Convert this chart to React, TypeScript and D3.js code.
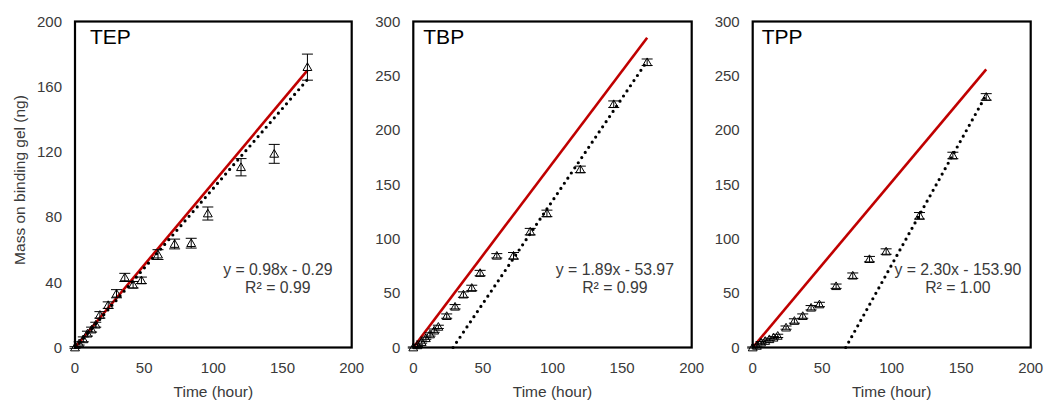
import React from "react";
import * as d3 from "d3";

const times = [0, 3, 6, 9, 12, 15, 18, 24, 30, 36, 42, 48, 60, 72, 84, 96, 120, 144, 168];

const tepMass = [0, 2.5, 5, 8.5, 11, 14, 20, 26, 33, 43, 38.5, 41.2, 57, 63.5, 64, 82.2, 110.6, 118.8, 172];
const tepErr = [0.5, 1, 1.5, 1.5, 1.5, 1.5, 2, 2, 2.5, 2.5, 2, 2, 3, 3, 3, 4, 5.3, 5.8, 8];

const tbpMass = [0, 2, 5, 8.5, 12, 15.5, 19, 28.9, 37.5, 48.7, 54.8, 68.5, 84.4, 84.4, 106.6, 123.4, 163.9, 223.9, 262.5];
const tbpErr = [0.5, 1, 1, 1, 1.5, 1.5, 1.5, 2, 2, 2.5, 2.5, 2.5, 2, 3, 3, 3, 3, 3, 3];

const tppMass = [0, 1.5, 4.5, 6, 7.6, 9, 10.7, 18.3, 24.4, 28.9, 36.6, 39.6, 56.4, 66.1, 81.3, 88.3, 121.2, 176.7, 230.6];
const tppErr = [0.5, 1, 1, 1, 1, 1, 1.5, 1.5, 2, 2, 2, 2, 2, 2.5, 2.5, 2.5, 3, 3, 3];

const panelNames = ["TEP", "TBP", "TPP"];
const theoryEnd = [170, 285, 256];
const fitSlope = [0.98, 1.89, 2.3];
const fitIntercept = [-0.29, -53.97, -153.9];
const eqLabels = ["y = 0.98x - 0.29", "y = 1.89x - 53.97", "y = 2.30x - 153.90"];
const r2Labels = ["R² = 0.99", "R² = 0.99", "R² = 1.00"];
const yMaxes = [200, 300, 300];
const yTickSets = [
  [0, 40, 80, 120, 160, 200],
  [0, 50, 100, 150, 200, 250, 300],
  [0, 50, 100, 150, 200, 250, 300],
];
const xTicks = [0, 50, 100, 150, 200];
const xMaxData = 168;

const massSets = [tepMass, tbpMass, tppMass];
const errSets = [tepErr, tbpErr, tppErr];

const layout = [
  { left: 75, right: 351.7, titleDx: 15, eqFrac: 0.733 },
  { left: 413.3, right: 691.7, titleDx: 10, eqFrac: 0.724 },
  { left: 752.7, right: 1030.7, titleDx: 9, eqFrac: 0.738 },
];
const TOP = 21.5;
const BOTTOM = 347.5;
const FONT = "Liberation Sans, Arial, sans-serif";
const TXT = "#3a3a3a";

function Panel({ i }: { i: number }) {
  const L = layout[i];
  const x = d3.scaleLinear().domain([0, 200]).range([L.left, L.right]);
  const y = d3.scaleLinear().domain([0, yMaxes[i]]).range([BOTTOM, TOP]);
  const mass = massSets[i];
  const err = errSets[i];
  const line = d3
    .line<[number, number]>()
    .x((d) => x(d[0]))
    .y((d) => y(d[1]));
  const theory: [number, number][] = [
    [0, 0],
    [xMaxData, theoryEnd[i]],
  ];
  const x0 = Math.max(0, -fitIntercept[i] / fitSlope[i]);
  const fit: [number, number][] = [
    [x0, fitSlope[i] * x0 + fitIntercept[i]],
    [xMaxData, fitSlope[i] * xMaxData + fitIntercept[i]],
  ];
  const tri = d3.symbol().type(d3.symbolTriangle).size(34)();
  const cap = 5.5;
  const eqX = L.left + (L.right - L.left) * L.eqFrac;
  return (
    <g>
      {yTickSets[i].map((t) => (
        <text
          key={"y" + t}
          x={L.left - 13}
          y={y(t)}
          dy="0.35em"
          textAnchor="end"
          fontSize={15}
          fill={TXT}
          fontFamily={FONT}
        >
          {t}
        </text>
      ))}
      {xTicks.map((t) => (
        <text
          key={"x" + t}
          x={x(t)}
          y={373}
          textAnchor="middle"
          fontSize={15}
          fill={TXT}
          fontFamily={FONT}
        >
          {t}
        </text>
      ))}
      <text
        x={(L.left + L.right) / 2}
        y={397}
        textAnchor="middle"
        fontSize={15.5}
        fill={TXT}
        fontFamily={FONT}
      >
        Time (hour)
      </text>
      <path d={line(theory) || ""} stroke="#C00000" strokeWidth={2.6} fill="none" />
      <path
        d={line(fit) || ""}
        stroke="#000"
        strokeWidth={3.2}
        strokeDasharray="0 6.2"
        strokeLinecap="round"
        fill="none"
      />
      {times.map((t, k) => (
        <g key={"p" + k}>
          <path
            d={tri || ""}
            transform={`translate(${x(t)},${y(mass[k]) + 0.8})`}
            fill="none"
            stroke="#000"
            strokeWidth={1}
          />
          <line x1={x(t)} x2={x(t)} y1={y(mass[k] - err[k])} y2={y(mass[k] + err[k])} stroke="#000" strokeWidth={1} />
          <line x1={x(t) - cap} x2={x(t) + cap} y1={y(mass[k] + err[k])} y2={y(mass[k] + err[k])} stroke="#000" strokeWidth={1} />
          <line x1={x(t) - cap} x2={x(t) + cap} y1={y(mass[k] - err[k])} y2={y(mass[k] - err[k])} stroke="#000" strokeWidth={1} />
        </g>
      ))}
      <rect
        x={L.left}
        y={TOP}
        width={L.right - L.left}
        height={BOTTOM - TOP}
        fill="none"
        stroke="#000"
        strokeWidth={2.2}
      />
      <text x={L.left + L.titleDx} y={43.5} fontSize={21} fill="#000" fontFamily={FONT}>
        {panelNames[i]}
      </text>
      <text x={eqX} y={275} textAnchor="middle" fontSize={15.8} fill={TXT} fontFamily={FONT}>
        {eqLabels[i]}
      </text>
      <text x={eqX} y={292.7} textAnchor="middle" fontSize={15.8} fill={TXT} fontFamily={FONT}>
        {r2Labels[i]}
      </text>
    </g>
  );
}

export default function App() {
  return (
    <svg
      width={1045}
      height={403}
      style={{ position: "absolute", left: 0, top: 0, background: "#fff" }}
    >
      <rect x={0} y={0} width={1045} height={403} fill="#fff" />
      {[0, 1, 2].map((i) => (
        <Panel key={i} i={i} />
      ))}
      <text
        transform="translate(20,180) rotate(-90)"
        textAnchor="middle"
        dy="0.35em"
        fontSize={15.5}
        fill={TXT}
        fontFamily={FONT}
      >
        Mass on binding gel (ng)
      </text>
    </svg>
  );
}
